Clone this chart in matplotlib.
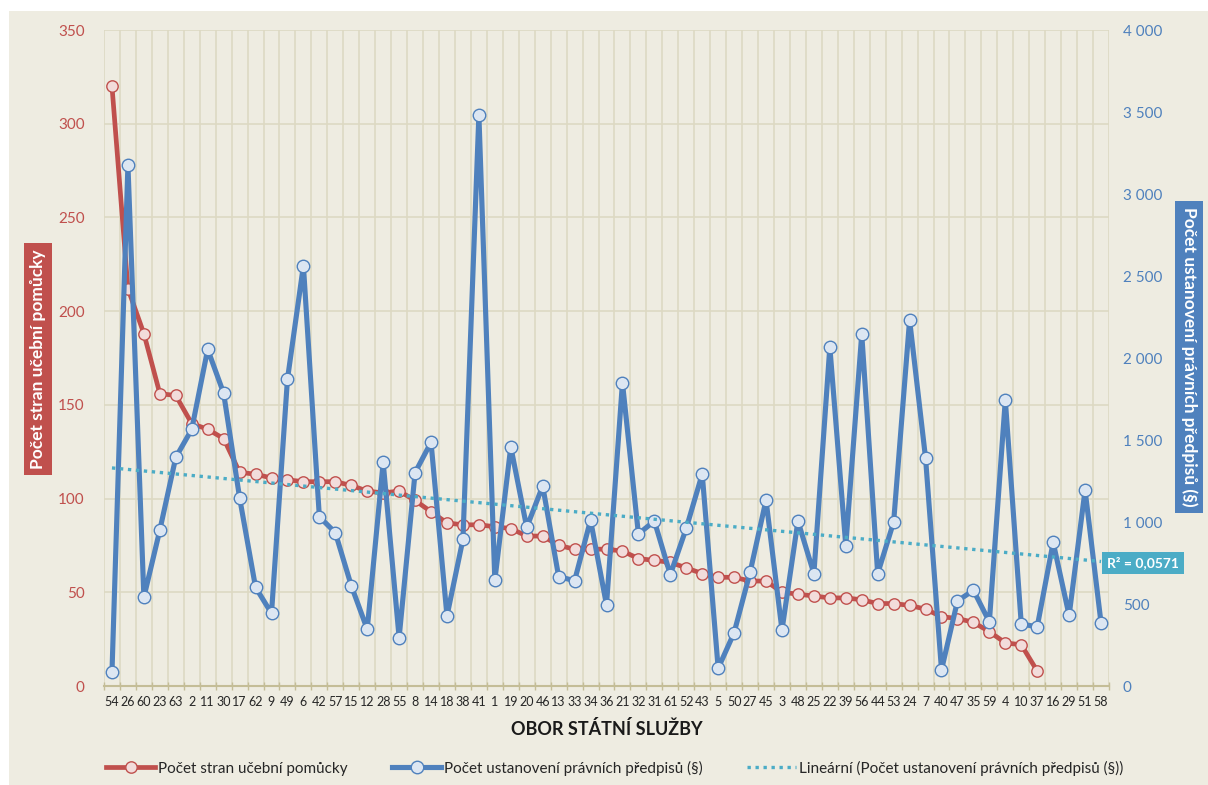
import matplotlib
matplotlib.use("Agg")
import matplotlib.pyplot as plt
from matplotlib.patches import Rectangle
from matplotlib.ticker import FixedLocator, FuncFormatter
import numpy as np

plt.rcParams["font.family"] = ["Lato", "DejaVu Sans"]

# ── Data ──────────────────────────────────────────────────────────────────────
obory = ["54", "26", "60", "23", "63", "2", "11", "30", "17", "62", "9", "49", "6",
         "42", "57", "15", "12", "28", "55", "8", "14", "18", "38", "41", "1", "19",
         "20", "46", "13", "33", "34", "36", "21", "32", "31", "61", "52", "43", "5",
         "50", "27", "45", "3", "48", "25", "22", "39", "56", "44", "53", "24", "7",
         "40", "47", "35", "59", "4", "10", "37", "16", "29", "51", "58"]

# pages of the study aid (only first 59 categories have a value)
strany = [320, 212, 188, 156, 155, 140, 137, 132, 114, 113, 111, 110, 109, 109, 109,
          107, 104, 103, 104, 99, 93, 87, 86, 86, 85, 84, 80, 80, 75, 73, 73, 73, 72,
          68, 67, 66, 63, 60, 58, 58, 56, 56, 50, 49, 48, 47, 47, 46, 44, 44, 43, 41,
          37, 36, 34, 29, 23, 22, 8]

# number of legal provisions
ustanoveni = [84, 3177, 541, 951, 1394, 1565, 2053, 1785, 1148, 602, 443, 1870, 2563,
              1032, 935, 612, 346, 1364, 295, 1301, 1486, 427, 894, 3482, 644, 1459,
              967, 1220, 667, 642, 1012, 494, 1850, 927, 1006, 679, 962, 1293, 108,
              325, 693, 1134, 341, 1006, 685, 2067, 856, 2146, 685, 1000, 2232, 1390,
              98, 518, 584, 391, 1744, 378, 361, 876, 430, 1195, 385]

RED = "#C0504D"
RED_FACE = "#F2DCDB"
BLUE = "#4F81BD"
BLUE_FACE = "#DCE6F2"
TREND = "#4BACC6"
BG = "#EEECE1"
GRID = "#DDD9C3"
AXIS = "#C4BD97"

W, H = 1208, 785
fig = plt.figure(figsize=(W / 100, H / 100), dpi=100, facecolor="white")
fig.patches.append(Rectangle((9 / W, 0), 1 - 9 / W, 1 - 11 / H, transform=fig.transFigure,
                             facecolor=BG, edgecolor="none", zorder=-10))

ax = fig.add_axes([104 / W, (H - 686) / H, (1109 - 104) / W, (686 - 30) / H])
ax.set_facecolor(BG)
ax2 = ax.twinx()
ax2.patch.set_visible(False)

x = np.arange(len(obory))
xr = np.arange(len(strany))

ax.plot(xr, strany, color=RED, lw=3.4, marker="o", ms=8.2, mfc=RED_FACE, mec=RED,
        mew=1.0, zorder=3, label="Počet stran učební pomůcky")
ax2.plot(x, ustanoveni, color=BLUE, lw=3.7, marker="o", ms=9.0, mfc=BLUE_FACE, mec=BLUE,
         mew=1.0, zorder=3, label="Počet ustanovení právních předpisů (§)")

# linear trend of the provisions series
z = np.polyfit(x + 1, ustanoveni, 1)
ax2.plot(x, np.polyval(z, x + 1), color=TREND, lw=2.4, linestyle=(0, (1, 1.4)),
         zorder=4, label="Lineární (Počet ustanovení právních předpisů (§))")

ax.set_xlim(-0.5, len(obory) - 0.5)
ax.set_ylim(0, 350)
ax2.set_ylim(0, 4000)

ax.set_xticks(x)
ax.set_xticklabels(obory, fontsize=9, color="#262626")
ax.xaxis.set_minor_locator(FixedLocator(np.arange(-0.5, len(obory), 1)))
ax.tick_params(axis="x", which="major", length=0, pad=7)
ax.tick_params(axis="x", which="minor", length=6, direction="inout", color=AXIS, width=1)
ax.grid(True, which="minor", axis="x", color=GRID, lw=1.2)
ax.set_yticks(np.arange(0, 351, 50))
ax.grid(True, which="major", axis="y", color=GRID, lw=1.2)
ax.set_axisbelow(True)
ax.tick_params(axis="y", length=0, labelsize=11, labelcolor=RED, pad=14)

ax2.set_yticks(np.arange(0, 4001, 500))
ax2.yaxis.set_major_formatter(FuncFormatter(lambda v, p: f"{int(v):,}".replace(",", " ")))
ax2.tick_params(axis="y", length=0, labelsize=11, labelcolor=BLUE, pad=10)

for a in (ax, ax2):
    for s in ("top", "left", "right"):
        a.spines[s].set_visible(False)
    a.spines["bottom"].set_color(AXIS)
    a.spines["bottom"].set_linewidth(1.5)
ax2.spines["bottom"].set_visible(False)

ax.set_xlabel("OBOR STÁTNÍ SLUŽBY", fontsize=13, fontweight="bold", color="#1a1a1a",
              labelpad=9)

fig.text(38 / W, 1 - 359 / H, "Počet stran učební pomůcky", rotation=90, ha="center",
         va="center", fontsize=12.5, fontweight="bold", color="white",
         bbox=dict(boxstyle="square,pad=0.35", facecolor=RED, edgecolor="none"))
fig.text(1189 / W, 1 - 357 / H, "Počet ustanovení právních předpisů (§)", rotation=270,
         ha="center", va="center", fontsize=12.5, fontweight="bold", color="white",
         bbox=dict(boxstyle="square,pad=0.35", facecolor=BLUE, edgecolor="none"))
fig.text(1143 / W, 1 - 563 / H, "R² = 0,0571", ha="center", va="center", fontsize=10,
         fontweight="bold", color="white",
         bbox=dict(boxstyle="square,pad=0.35", facecolor=TREND, edgecolor="none"))

h1, l1 = ax.get_legend_handles_labels()
h2, l2 = ax2.get_legend_handles_labels()
fig.legend(h1 + h2, l1 + l2, loc="center", bbox_to_anchor=(615 / W, 1 - 768 / H), ncol=3,
           frameon=False, fontsize=11, handlelength=3.2, handletextpad=0.2,
           columnspacing=2.9, labelcolor="#262626")

fig.savefig("out.png", dpi=100, facecolor="white")
